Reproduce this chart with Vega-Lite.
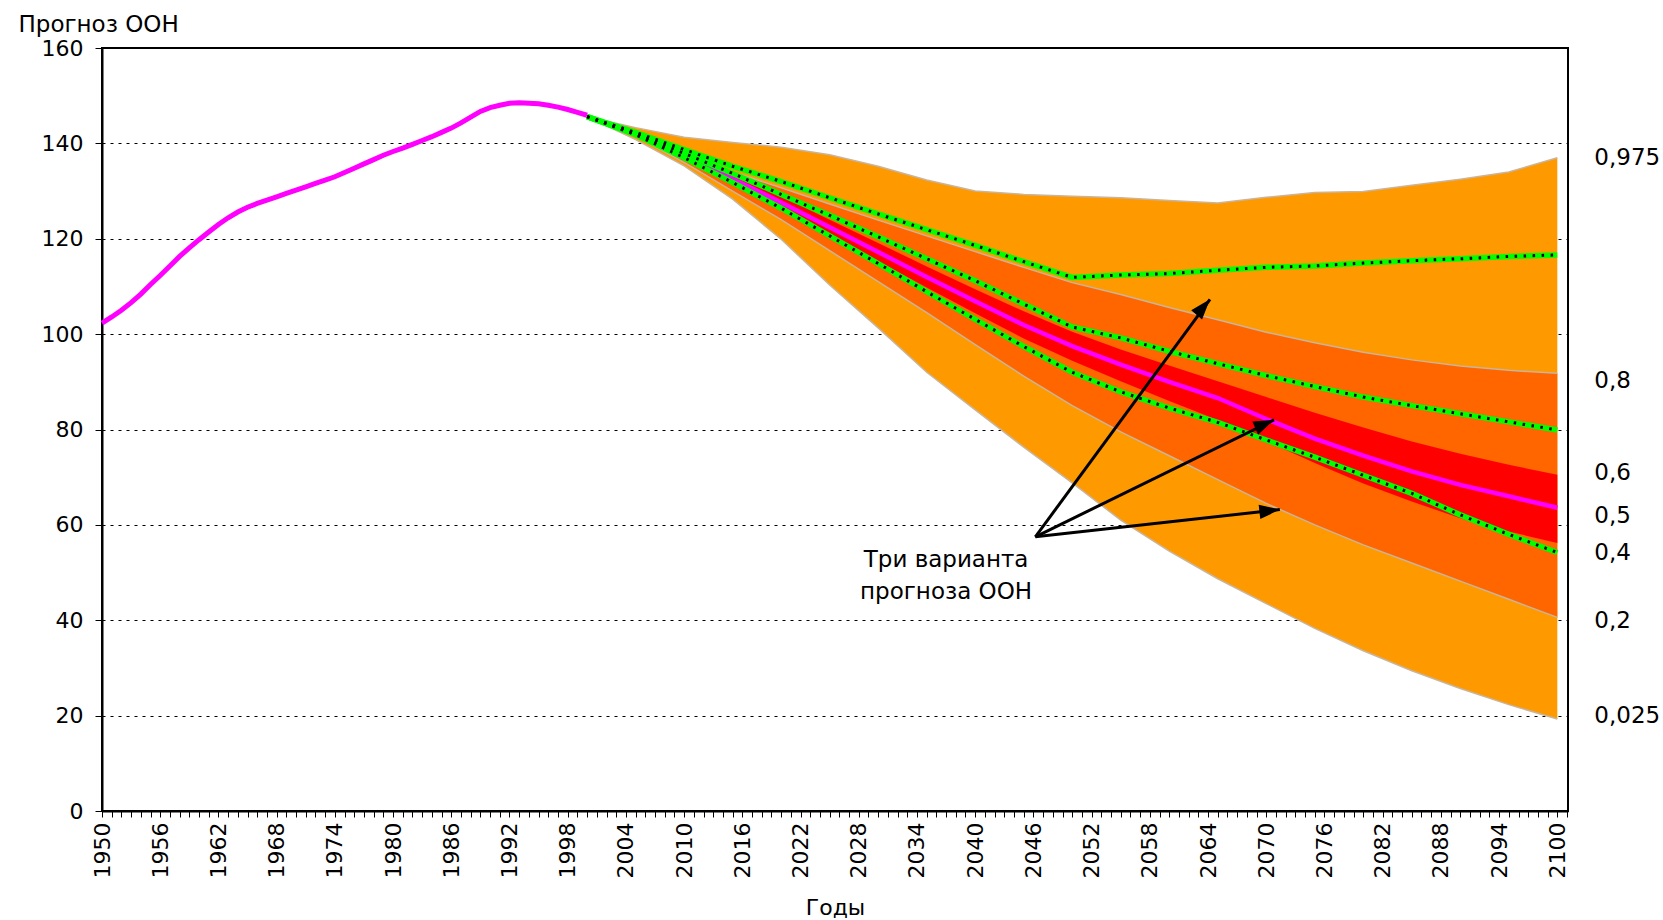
{
  "$schema": "https://vega.github.io/schema/vega-lite/v6.json",
  "width": 1466,
  "height": 763,
  "autosize": {"type": "none"},
  "padding": {"left": 102, "top": 48, "right": 95, "bottom": 109},
  "background": "white",
  "config": {
    "view": {"stroke": "black", "strokeWidth": 2},
    "font": "DejaVu Sans"
  },
  "datasets": {
    "hist": [
      {"year": 1950, "value": 102.3}, {"year": 1951, "value": 103.6}, {"year": 1952, "value": 105.0}, {"year": 1953, "value": 106.6},
      {"year": 1954, "value": 108.4}, {"year": 1955, "value": 110.4}, {"year": 1956, "value": 112.3}, {"year": 1957, "value": 114.3},
      {"year": 1958, "value": 116.3}, {"year": 1959, "value": 118.1}, {"year": 1960, "value": 119.8}, {"year": 1961, "value": 121.4},
      {"year": 1962, "value": 123.0}, {"year": 1963, "value": 124.4}, {"year": 1964, "value": 125.6}, {"year": 1965, "value": 126.6},
      {"year": 1966, "value": 127.4}, {"year": 1967, "value": 128.1}, {"year": 1968, "value": 128.8}, {"year": 1969, "value": 129.5},
      {"year": 1970, "value": 130.2}, {"year": 1971, "value": 130.9}, {"year": 1972, "value": 131.6}, {"year": 1973, "value": 132.3},
      {"year": 1974, "value": 133.0}, {"year": 1975, "value": 133.9}, {"year": 1976, "value": 134.8}, {"year": 1977, "value": 135.7},
      {"year": 1978, "value": 136.6}, {"year": 1979, "value": 137.5}, {"year": 1980, "value": 138.3}, {"year": 1981, "value": 139.0},
      {"year": 1982, "value": 139.8}, {"year": 1983, "value": 140.6}, {"year": 1984, "value": 141.4}, {"year": 1985, "value": 142.3},
      {"year": 1986, "value": 143.2}, {"year": 1987, "value": 144.3}, {"year": 1988, "value": 145.5}, {"year": 1989, "value": 146.7},
      {"year": 1990, "value": 147.5}, {"year": 1991, "value": 148.0}, {"year": 1992, "value": 148.4}, {"year": 1993, "value": 148.5},
      {"year": 1994, "value": 148.4}, {"year": 1995, "value": 148.3}, {"year": 1996, "value": 148.0}, {"year": 1997, "value": 147.6},
      {"year": 1998, "value": 147.1}, {"year": 1999, "value": 146.5}, {"year": 2000, "value": 145.9}
    ],
    "bands": [
      {"year": 2000, "p025": 145.6, "p20": 145.6, "p40": 145.6, "p50": 145.6, "p60": 145.6, "p80": 145.6, "p975": 145.6, "low": 145.6, "med": 145.6, "high": 145.6},
      {"year": 2005, "p025": 140.8, "p20": 141.5, "p40": 141.6, "p50": 141.9, "p60": 142.3, "p80": 142.0, "p975": 143.3, "low": 141.8, "med": 142.0, "high": 142.3},
      {"year": 2010, "p025": 135.3, "p20": 136.0, "p40": 136.6, "p50": 137.4, "p60": 138.2, "p80": 137.8, "p975": 141.3, "low": 137.0, "med": 137.9, "high": 138.7},
      {"year": 2015, "p025": 128.3, "p20": 130.0, "p40": 131.5, "p50": 132.6, "p60": 133.6, "p80": 134.0, "p975": 140.2, "low": 131.8, "med": 133.7, "high": 135.2},
      {"year": 2020, "p025": 119.9, "p20": 124.0, "p40": 126.2, "p50": 127.6, "p60": 128.9, "p80": 130.7, "p975": 139.2, "low": 126.4, "med": 129.3, "high": 132.0},
      {"year": 2025, "p025": 110.3, "p20": 117.5, "p40": 120.8, "p50": 122.4, "p60": 124.0, "p80": 127.3, "p975": 137.6, "low": 120.6, "med": 124.9, "high": 128.6},
      {"year": 2030, "p025": 101.3, "p20": 111.0, "p40": 115.3, "p50": 117.2, "p60": 119.1, "p80": 123.9, "p975": 135.2, "low": 114.8, "med": 120.4, "high": 125.2},
      {"year": 2035, "p025": 92.0, "p20": 104.5, "p40": 109.8, "p50": 112.0, "p60": 114.2, "p80": 120.6, "p975": 132.3, "low": 108.9, "med": 115.8, "high": 121.9},
      {"year": 2040, "p025": 84.1, "p20": 97.8, "p40": 104.4, "p50": 106.9, "p60": 109.4, "p80": 117.3, "p975": 130.0, "low": 103.1, "med": 111.2, "high": 118.6},
      {"year": 2045, "p025": 76.3, "p20": 91.2, "p40": 99.1, "p50": 101.9, "p60": 104.8, "p80": 114.0, "p975": 129.3, "low": 97.4, "med": 106.3, "high": 115.2},
      {"year": 2050, "p025": 68.8, "p20": 85.0, "p40": 94.4, "p50": 97.5, "p60": 100.5, "p80": 110.8, "p975": 128.9, "low": 92.0, "med": 101.5, "high": 111.9},
      {"year": 2055, "p025": 61.0, "p20": 79.5, "p40": 90.1, "p50": 93.6, "p60": 96.8, "p80": 108.3, "p975": 128.6, "low": 87.9, "med": 99.2, "high": 112.4},
      {"year": 2060, "p025": 54.5, "p20": 74.5, "p40": 86.0, "p50": 90.0, "p60": 93.4, "p80": 105.6, "p975": 128.0, "low": 84.5, "med": 96.4, "high": 112.7},
      {"year": 2065, "p025": 48.7, "p20": 69.5, "p40": 82.0, "p50": 86.6, "p60": 90.1, "p80": 103.0, "p975": 127.5, "low": 81.5, "med": 93.8, "high": 113.4},
      {"year": 2070, "p025": 43.5, "p20": 64.5, "p40": 77.6, "p50": 82.2, "p60": 86.8, "p80": 100.4, "p975": 128.7, "low": 77.8, "med": 91.3, "high": 114.0},
      {"year": 2075, "p025": 38.3, "p20": 60.0, "p40": 73.0, "p50": 78.1, "p60": 83.5, "p80": 98.2, "p975": 129.7, "low": 74.2, "med": 89.0, "high": 114.3},
      {"year": 2080, "p025": 33.6, "p20": 55.8, "p40": 68.7, "p50": 74.5, "p60": 80.4, "p80": 96.2, "p975": 129.9, "low": 70.4, "med": 86.8, "high": 114.9},
      {"year": 2085, "p025": 29.4, "p20": 52.0, "p40": 64.9, "p50": 71.2, "p60": 77.5, "p80": 94.6, "p975": 131.2, "low": 66.6, "med": 85.0, "high": 115.4},
      {"year": 2090, "p025": 25.7, "p20": 48.2, "p40": 61.4, "p50": 68.4, "p60": 74.9, "p80": 93.3, "p975": 132.5, "low": 62.1, "med": 83.3, "high": 115.8},
      {"year": 2095, "p025": 22.3, "p20": 44.4, "p40": 58.6, "p50": 66.0, "p60": 72.6, "p80": 92.4, "p975": 134.0, "low": 58.0, "med": 81.6, "high": 116.3},
      {"year": 2100, "p025": 19.3, "p20": 40.6, "p40": 56.2, "p50": 63.6, "p60": 70.5, "p80": 91.8, "p975": 137.0, "low": 54.2, "med": 79.9, "high": 116.6}
    ],
    "arrows": [
      {"id": 1, "year": 2046.2, "value": 57.5, "year2": 2064.2, "value2": 107.3},
      {"id": 2, "year": 2046.2, "value": 57.5, "year2": 2070.8, "value2": 82.0},
      {"id": 3, "year": 2046.2, "value": 57.5, "year2": 2071.4, "value2": 63.2}
    ],
    "note": [
      {"year": 2037.0, "value": 52.6, "text": "Три варианта"},
      {"year": 2037.0, "value": 45.9, "text": "прогноза ООН"}
    ],
    "qlabels": [
      {"year": 2100, "value": 136.9, "text": "0,975"},
      {"year": 2100, "value": 90.2, "text": "0,8"},
      {"year": 2100, "value": 70.9, "text": "0,6"},
      {"year": 2100, "value": 61.8, "text": "0,5"},
      {"year": 2100, "value": 54.2, "text": "0,4"},
      {"year": 2100, "value": 39.9, "text": "0,2"},
      {"year": 2100, "value": 19.9, "text": "0,025"}
    ]
  },
  "layer": [
    {
      "data": {"name": "bands"},
      "mark": {"type": "area", "color": "#FF9900"},
      "encoding": {
        "x": {
          "field": "year", "type": "quantitative",
          "scale": {"domain": [1950, 2101.1], "nice": false, "zero": false},
          "axis": {
            "title": "Годы", "tickCount": 151, "format": "d",
            "labelExpr": "datum.value % 6 == 0 ? datum.label : ''",
            "labelAngle": 270, "labelAlign": "right", "labelBaseline": "middle",
            "labelFont": "DejaVu Sans", "labelFontSize": 22, "labelColor": "black", "labelPadding": 5,
            "labelOverlap": false, "labelFlush": false, "labelBound": false,
            "tickSize": 6, "tickColor": "black", "tickWidth": 1,
            "domainColor": "black", "domainWidth": 2, "grid": false,
            "titleFont": "DejaVu Sans", "titleFontSize": 22, "titleFontWeight": "normal", "titleColor": "black",
            "titleY": 103, "titleBaseline": "alphabetic"
          }
        },
        "y": {
          "field": "p025", "type": "quantitative",
          "scale": {"domain": [0, 160], "nice": false},
          "axis": {
            "title": "Прогноз ООН", "values": [0, 20, 40, 60, 80, 100, 120, 140, 160],
            "grid": true, "gridColor": "black", "gridDash": [3, 5], "gridWidth": 1,
            "tickSize": 7, "tickColor": "black", "domainColor": "black", "domainWidth": 2,
            "labelFont": "DejaVu Sans", "labelFontSize": 22, "labelColor": "black", "labelPadding": 12, "labelFlush": false,
            "titleAngle": 0, "titleAlign": "left", "titleBaseline": "alphabetic", "titleX": -84, "titleY": -17,
            "titleFont": "DejaVu Sans", "titleFontSize": 23, "titleFontWeight": "normal", "titleColor": "black"
          }
        },
        "y2": {"field": "p975"}
      }
    },
    {
      "data": {"name": "bands"},
      "mark": {"type": "area", "color": "#FF6600"},
      "encoding": {
        "x": {"field": "year", "type": "quantitative"},
        "y": {"field": "p20", "type": "quantitative"},
        "y2": {"field": "p80"}
      }
    },
    {
      "data": {"name": "bands"},
      "mark": {"type": "area", "color": "#FF0000"},
      "encoding": {
        "x": {"field": "year", "type": "quantitative"},
        "y": {"field": "p40", "type": "quantitative"},
        "y2": {"field": "p60"}
      }
    },
    {
      "data": {"name": "bands"},
      "transform": [{"fold": ["p025", "p20", "p80", "p975"], "as": ["q", "v"]}],
      "mark": {"type": "line", "color": "#C9B49C", "strokeWidth": 1.5},
      "encoding": {
        "x": {"field": "year", "type": "quantitative"},
        "y": {"field": "v", "type": "quantitative"},
        "detail": {"field": "q"}
      }
    },
    {
      "data": {"name": "bands"},
      "mark": {"type": "line", "color": "#FF00FF", "strokeWidth": 4.5},
      "encoding": {
        "x": {"field": "year", "type": "quantitative"},
        "y": {"field": "p50", "type": "quantitative"}
      }
    },
    {
      "data": {"name": "bands"},
      "transform": [{"fold": ["low", "med", "high"], "as": ["variant", "v"]}],
      "mark": {"type": "line", "color": "#00FF00", "strokeWidth": 5.5},
      "encoding": {
        "x": {"field": "year", "type": "quantitative"},
        "y": {"field": "v", "type": "quantitative"},
        "detail": {"field": "variant"}
      }
    },
    {
      "data": {"name": "bands"},
      "transform": [{"fold": ["low", "med", "high"], "as": ["variant", "v"]}],
      "mark": {"type": "line", "color": "black", "strokeWidth": 3, "strokeDash": [2.5, 6.5]},
      "encoding": {
        "x": {"field": "year", "type": "quantitative"},
        "y": {"field": "v", "type": "quantitative"},
        "detail": {"field": "variant"}
      }
    },
    {
      "data": {"name": "hist"},
      "mark": {"type": "line", "color": "#FF00FF", "strokeWidth": 5},
      "encoding": {
        "x": {"field": "year", "type": "quantitative"},
        "y": {"field": "value", "type": "quantitative"}
      }
    },
    {
      "data": {"name": "arrows"},
      "mark": {"type": "rule", "color": "black", "strokeWidth": 3},
      "encoding": {
        "x": {"field": "year", "type": "quantitative"},
        "y": {"field": "value", "type": "quantitative"},
        "x2": {"field": "year2"},
        "y2": {"field": "value2"}
      }
    },
    {
      "data": {"name": "arrows"},
      "transform": [{"filter": "datum.id == 1"}],
      "mark": {"type": "point", "shape": "M0,0L-0.7,2L0.7,2Z", "filled": true, "color": "black", "opacity": 1, "size": 420, "angle": 40.7},
      "encoding": {
        "x": {"field": "year2", "type": "quantitative"},
        "y": {"field": "value2", "type": "quantitative"}
      }
    },
    {
      "data": {"name": "arrows"},
      "transform": [{"filter": "datum.id == 2"}],
      "mark": {"type": "point", "shape": "M0,0L-0.7,2L0.7,2Z", "filled": true, "color": "black", "opacity": 1, "size": 420, "angle": 66.5},
      "encoding": {
        "x": {"field": "year2", "type": "quantitative"},
        "y": {"field": "value2", "type": "quantitative"}
      }
    },
    {
      "data": {"name": "arrows"},
      "transform": [{"filter": "datum.id == 3"}],
      "mark": {"type": "point", "shape": "M0,0L-0.7,2L0.7,2Z", "filled": true, "color": "black", "opacity": 1, "size": 420, "angle": 83.6},
      "encoding": {
        "x": {"field": "year2", "type": "quantitative"},
        "y": {"field": "value2", "type": "quantitative"}
      }
    },
    {
      "data": {"name": "note"},
      "mark": {"type": "text", "font": "DejaVu Sans", "fontSize": 23, "color": "black", "align": "center", "baseline": "middle"},
      "encoding": {
        "x": {"field": "year", "type": "quantitative"},
        "y": {"field": "value", "type": "quantitative"},
        "text": {"field": "text"}
      }
    },
    {
      "data": {"name": "qlabels"},
      "mark": {"type": "text", "font": "DejaVu Sans", "fontSize": 23, "color": "black", "align": "left", "baseline": "middle", "dx": 37},
      "encoding": {
        "x": {"field": "year", "type": "quantitative"},
        "y": {"field": "value", "type": "quantitative"},
        "text": {"field": "text"}
      }
    }
  ]
}
